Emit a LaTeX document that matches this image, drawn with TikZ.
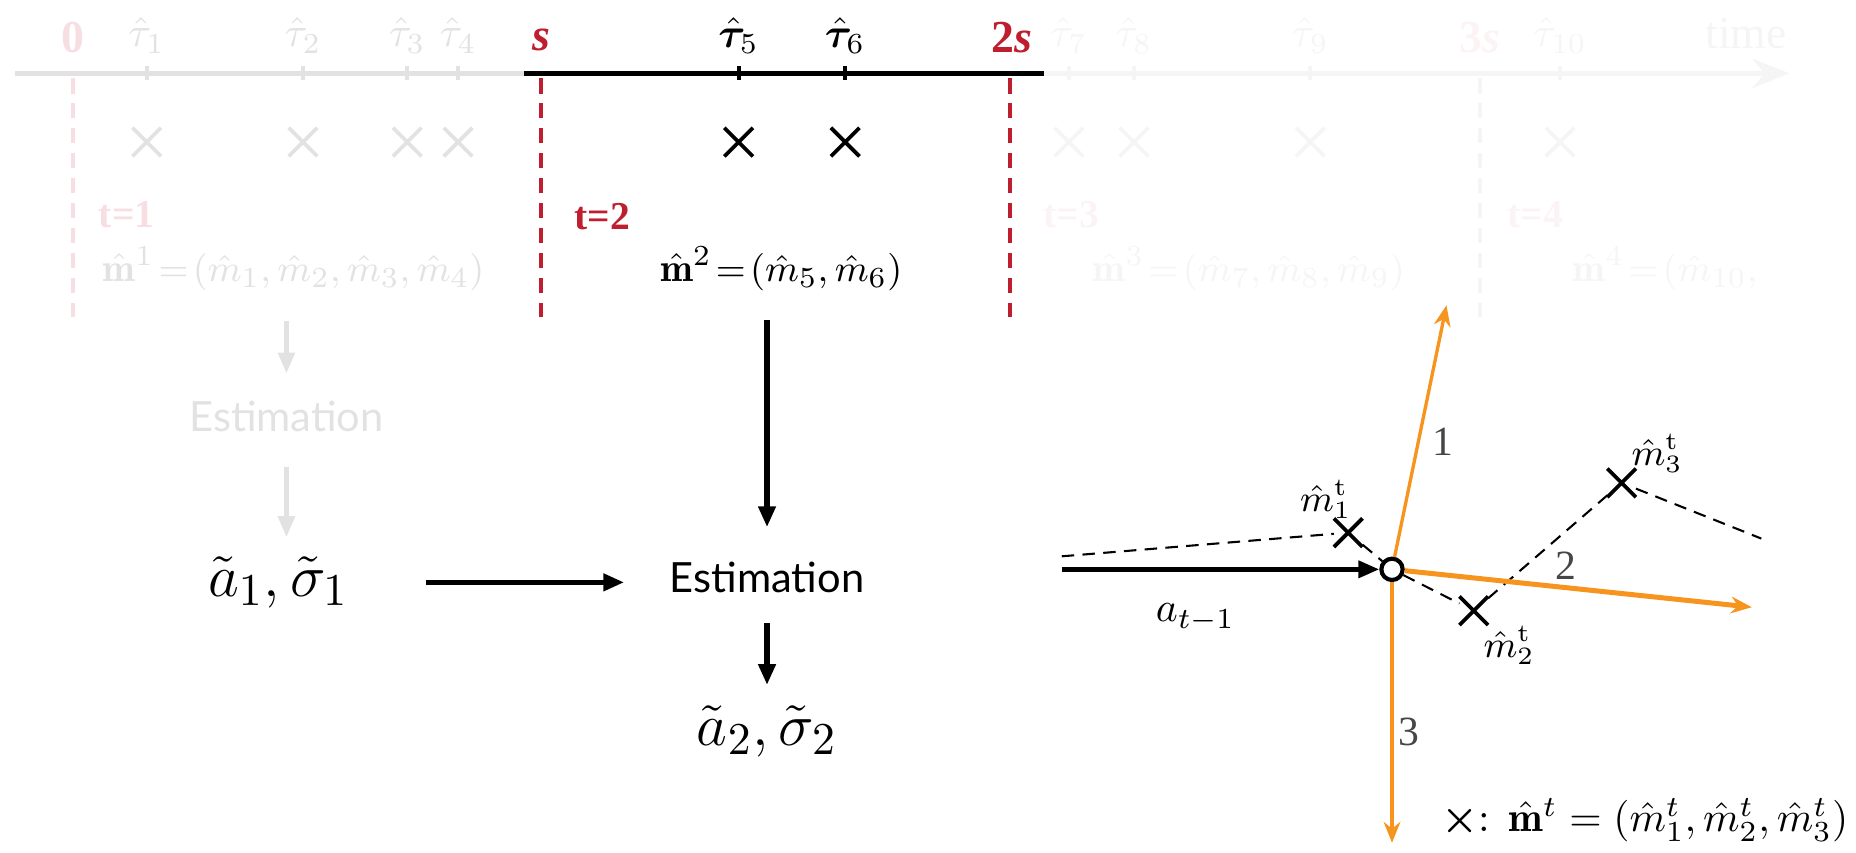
\documentclass[tikz,border=0pt]{standalone}
\usepackage{amsmath,amssymb}
\usepackage{bm}
\usepackage{fontspec}
\setsansfont{Lato}
\newfontfamily\timesfont{Liberation Serif}
\usepackage{xcolor}
\usepackage{tikz}
\usetikzlibrary{arrows.meta, positioning, calc, shapes.misc}

\definecolor{winred}{RGB}{190,30,45}
\definecolor{oldred}{RGB}{246,222,226}
\definecolor{oldgray}{RGB}{226,226,226}
\definecolor{newred}{RGB}{252,243,245}
\definecolor{newgray}{RGB}{245,245,245}
\definecolor{dirorange}{RGB}{247,148,29}
\definecolor{numgray}{RGB}{70,70,70}

\begin{document}
\begin{tikzpicture}[
    >={Triangle[length=5pt,width=4pt]},
    y=-1cm,
    line width=0.9pt,
    lbl/.style={inner sep=0pt},
    mathlbl/.style={inner sep=0pt, font=\fontsize{10}{12}\selectfont},
    veclbl/.style={inner sep=0pt, font=\fontsize{9.5}{11}\selectfont},
    bndlbl/.style={inner sep=0pt, font=\timesfont\bfseries\fontsize{11}{13}\selectfont},
    winlbl/.style={inner sep=0pt, font=\timesfont\bfseries\fontsize{9.5}{11}\selectfont},
    estlbl/.style={inner sep=0pt, font=\sffamily\fontsize{10}{12}\selectfont},
    numlbl/.style={inner sep=0pt, text=numgray, font=\timesfont\fontsize{10}{12}\selectfont},
    xmark/.style={draw, cross out, minimum size=0.21cm, inner sep=0pt, line width=0.9pt},
    bound/.style={line width=1pt, dash pattern=on 3.7pt off 2.3pt},
    dir/.style={dirorange, line width=0.8pt, -{Stealth[length=5pt,width=4pt]}}
]

\useasboundingbox (0,0) rectangle (15.68,7.20);

% time axis
\coordinate (axA) at (0.13,0.62);
\coordinate (axB) at (4.43,0.62);
\coordinate (axC) at (8.82,0.62);
\coordinate (axD) at (15.12,0.62);
\draw[oldgray, line width=1.2pt] (axA) -- (axB);
\draw[newgray, line width=1.2pt, -{Stealth[length=9pt,width=7pt]}] (axC) -- (axD);
\draw[black, line width=1.2pt] (axB) -- (axC);

% window boundaries
\foreach \x/\c in {0.62/oldred, 4.57/winred, 8.53/winred, 12.50/newgray}
    \draw[\c, bound] (\x,0.66) -- (\x,2.68);

\node[bndlbl, text=oldred] (b0) at (0.62,0.32) {0};
\node[bndlbl, text=winred] (b1) at (4.57,0.34) {\itshape s};
\node[bndlbl, text=winred] (b2) at (8.55,0.32) {2\textit{s}};
\node[bndlbl, text=newred] (b3) at (12.50,0.32) {3\textit{s}};
\node[lbl, text=newgray, font=\timesfont\fontsize{11}{13}\selectfont] (tl) at (14.75,0.28) {time};

% events of window 1 (faded)
\foreach \x/\i in {1.24/1, 2.56/2, 3.44/3, 3.87/4} {
    \draw[oldgray, line width=1pt] (\x,0.56) -- (\x,0.68);
    \node[mathlbl, text=oldgray] (tau\i) at (\x,0.30) {$\hat{\tau}_{\i}$};
    \node[xmark, draw=oldgray] (ev\i) at (\x,1.20) {};
}

% events of window 2
\foreach \x/\i in {6.24/5, 7.14/6} {
    \draw[black, line width=1pt] (\x,0.56) -- (\x,0.68);
    \node[mathlbl] (tau\i) at (\x,0.30) {$\bm{\hat{\tau}}_{\i}$};
    \node[xmark] (ev\i) at (\x,1.20) {};
}

% events of later windows (ghost)
\foreach \x/\i in {9.03/7, 9.58/8, 11.07/9, 13.18/10} {
    \draw[newgray, line width=1pt] (\x,0.56) -- (\x,0.68);
    \node[mathlbl, text=newgray] (tau\i) at (\x,0.30) {$\hat{\tau}_{\i}$};
    \node[xmark, draw=newgray] (ev\i) at (\x,1.20) {};
}

% window labels
\node[winlbl, text=oldred] (w1) at (1.07,1.81) {t=1};
\node[winlbl, text=winred] (w2) at (5.09,1.83) {t=2};
\node[winlbl, text=newred] (w3) at (9.05,1.81) {t=3};
\node[winlbl, text=newred] (w4) at (12.97,1.81) {t=4};

% event vectors
\node[veclbl, text=oldgray] (mv1) at (2.48,2.27) {$\hat{\mathbf{m}}^1\!=\!(\hat m_1,\hat m_2,\hat m_3,\hat m_4)$};
\node[veclbl] (mv2) at (6.60,2.27) {$\hat{\mathbf{m}}^2\!=\!(\hat m_5,\hat m_6)$};
\node[veclbl, text=newgray] (mv3) at (10.55,2.27) {$\hat{\mathbf{m}}^3\!=\!(\hat m_7,\hat m_8,\hat m_9)$};
\node[veclbl, text=newgray, anchor=west] (mv4) at (13.27,2.27) {$\hat{\mathbf{m}}^4\!=\!(\hat m_{10},$};

% previous estimate (faded)
\node[estlbl, text=oldgray] (est1) at (2.42,3.52) {Estimation};
\node[lbl, font=\fontsize{15.5}{18}\selectfont] (ah1) at (2.35,4.92) {$\tilde{a}_1,\tilde{\sigma}_1$};
\draw[oldgray, line width=1pt, ->, shorten <=0.24cm, shorten >=0.22cm] (mv1.south -| est1.north) -- (est1.north);
\draw[oldgray, line width=1pt, ->, shorten <=0.28cm, shorten >=0.15cm] (est1.south) -- (est1.south |- ah1.north);

% current estimate
\node[estlbl] (est2) at (6.48,4.88) {Estimation};
\node[lbl, font=\fontsize{15.5}{18}\selectfont] (ah2) at (6.48,6.18) {$\tilde{a}_2,\tilde{\sigma}_2$};
\draw[->, line width=1.3pt, shorten <=0.23cm, shorten >=0.28cm] (mv2.south -| est2.north) -- (est2.north);
\draw[->, line width=1.3pt, shorten <=0.24cm, shorten >=0.16cm] (est2.south) -- (ah2.north);
\draw[->, line width=1.3pt, shorten <=0.64cm, shorten >=0.37cm] (ah1.east) -- (ah1.east -| est2.west);

% direction picture
\node[draw, circle, fill=white, minimum size=0.18cm, inner sep=0pt, line width=1pt] (hub) at (11.76,4.81) {};
\node[xmark] (m1) at (11.39,4.50) {};
\node[xmark] (m2) at (12.45,5.16) {};
\node[xmark] (m3) at (13.70,4.08) {};
\coordinate (dashL) at (8.97,4.70);
\coordinate (dashR) at (14.88,4.55);
\coordinate (inL) at (8.97,4.81);
\coordinate (o1) at (12.22,2.58);
\coordinate (o2) at (14.80,5.13);
\coordinate (o3) at (11.76,7.12);

\draw[line width=0.5pt, dash pattern=on 3pt off 2pt] (dashL) -- (m1) -- (hub) -- (m2) -- (m3) -- (dashR);
\draw[->, line width=1.1pt] (inL) -- (hub);
\draw[dir] (hub) -- (o1);
\draw[dir, line width=1.2pt] (hub) -- (o2);
\draw[dir] (hub) -- (o3);

\node[numlbl] (n1) at (12.19,3.73) {1};
\node[numlbl] (n2) at (13.23,4.78) {2};
\node[numlbl] (n3) at (11.90,6.18) {3};
\node[lbl, font=\fontsize{9}{11}\selectfont] (lm1) at (11.20,4.22) {$\hat m_1^{\mathrm{t}}$};
\node[lbl, font=\fontsize{9}{11}\selectfont] (lm2) at (12.75,5.45) {$\hat m_2^{\mathrm{t}}$};
\node[lbl, font=\fontsize{9}{11}\selectfont] (lm3) at (14.00,3.83) {$\hat m_3^{\mathrm{t}}$};
\node[lbl, font=\fontsize{10}{12}\selectfont] (aprev) at (10.10,5.22) {$a_{t-1}$};

% legend
\node[lbl, anchor=east, font=\fontsize{10}{12}\selectfont] (leg) at (15.63,6.93) {$\boldsymbol{\times}$: $\hat{\mathbf{m}}^t=(\hat m_1^t,\hat m_2^t,\hat m_3^t)$};

\end{tikzpicture}
\end{document}
